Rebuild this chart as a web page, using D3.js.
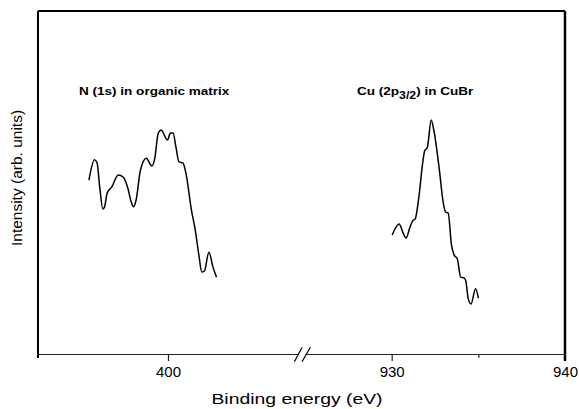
<!DOCTYPE html>
<html>
<head>
<meta charset="utf-8">
<script src="https://cdn.jsdelivr.net/npm/d3@7"></script>
<style>
  body { margin: 0; background: #fff; }
  svg { display: block; font-family: "Liberation Sans", Arial, sans-serif; }
</style>
</head>
<body>
<script>
// N (1s) spectrum, left part of the broken axis
const nEnergy = [395.44, 395.76, 395.91, 396.06, 396.24, 396.34, 396.49, 396.76, 397.13, 397.41,
  397.68, 397.88, 398.01, 398.16, 398.41, 398.75, 399.07, 399.22, 399.44, 399.60,
  399.97, 400.14, 400.29, 400.46, 400.63, 400.86, 401.03, 401.35, 401.57, 401.78,
  401.95, 402.10, 402.36, 402.59, 402.80];
const nIntensity = [50.7, 56.6, 55.7, 48.7, 42.3, 42.9, 46.9, 48.7, 52.2, 51.6,
  48.4, 44.3, 42.9, 44.9, 53.6, 57.1, 54.8, 56.6, 64.4, 65.3,
  62.4, 64.4, 64.4, 60.3, 56.0, 55.7, 52.8, 42.0, 36.2, 28.9,
  23.9, 24.2, 29.7, 25.4, 22.4];

// Cu (2p3/2) spectrum, right part
const cuEnergy = [930.03, 930.43, 930.66, 930.83, 931.06, 931.21, 931.36, 931.57, 931.79, 931.90,
  932.06, 932.28, 932.43, 932.74, 932.98, 933.11, 933.26, 933.45, 933.60, 933.79,
  933.98, 934.17, 934.28, 934.41, 934.58, 934.84, 935.00];
const cuIntensity = [34.7, 37.9, 35.3, 33.8, 37.0, 38.8, 39.4, 45.8, 55.7, 59.2,
  60.3, 68.2, 65.3, 54.2, 44.0, 41.4, 41.1, 31.8, 28.9, 27.7,
  22.4, 22.2, 21.3, 16.3, 14.6, 19.0, 16.3];

const leftTicks = [400];
const rightTicks = [930, 935, 940];
const rightLabels = {930: "930", 935: "", 940: "940"};

const W = 579, H = 409;
const pLeft = 38, pRight = 565, pTop = 11, pBottom = 354;
const breakL = 298, breakR = 305;

const svg = d3.select("body").append("svg")
  .attr("width", W).attr("height", H);

const xL = d3.scaleLinear().domain([392.5, 407.5]).range([pLeft, breakL]);
const xR = d3.scaleLinear().domain([925, 940]).range([breakR, pRight]);
const y = d3.scaleLinear().domain([0, 100]).range([pBottom, pTop]);

// frame (top, left, right)
svg.append("line").attr("x1", pLeft).attr("x2", pRight).attr("y1", pTop).attr("y2", pTop)
  .attr("stroke", "#000").attr("stroke-width", 2);
svg.append("line").attr("x1", pLeft).attr("x2", pLeft).attr("y1", pTop).attr("y2", pBottom + 4)
  .attr("stroke", "#000").attr("stroke-width", 2);
svg.append("line").attr("x1", pRight).attr("x2", pRight).attr("y1", pTop).attr("y2", pBottom + 7)
  .attr("stroke", "#000").attr("stroke-width", 2.5);

// bottom axes
function styleAxis(g) {
  g.select(".domain").attr("stroke", "#222").attr("stroke-width", 1.1);
  g.selectAll(".tick line").attr("stroke", "#222").attr("stroke-width", 1.2);
  g.selectAll(".tick text").attr("font-size", 15).attr("fill", "#000")
    .attr("font-family", "Liberation Sans, Arial, sans-serif");
}
svg.append("g").attr("transform", `translate(0,${pBottom})`)
  .call(d3.axisBottom(xL).tickValues(leftTicks).tickSize(7).tickSizeOuter(0).tickPadding(5))
  .call(styleAxis);
const gr = svg.append("g").attr("transform", `translate(0,${pBottom})`)
  .call(d3.axisBottom(xR).tickValues(rightTicks).tickSize(7).tickSizeOuter(0).tickPadding(5)
    .tickFormat(d => rightLabels[d]))
  .call(styleAxis);
gr.selectAll(".tick").filter(d => d === 935).select("line").attr("y2", 4);
gr.selectAll(".tick").filter(d => d === 940).select("line").remove();

// break marks
[[294.4, 361.7, 302, 347.5], [302, 361.7, 310.4, 347.3]].forEach(s => {
  svg.append("line").attr("x1", s[0]).attr("y1", s[1]).attr("x2", s[2]).attr("y2", s[3])
    .attr("stroke", "#000").attr("stroke-width", 1.2);
});

// spectra
const lineN = d3.line().x(d => xL(d[0])).y(d => y(d[1])).curve(d3.curveMonotoneX);
const lineCu = d3.line().x(d => xR(d[0])).y(d => y(d[1])).curve(d3.curveMonotoneX);
svg.append("path").datum(d3.zip(nEnergy, nIntensity)).attr("d", lineN)
  .attr("fill", "none").attr("stroke", "#000").attr("stroke-width", 1.5);
svg.append("path").datum(d3.zip(cuEnergy, cuIntensity)).attr("d", lineCu)
  .attr("fill", "none").attr("stroke", "#000").attr("stroke-width", 1.5);

// annotations (slightly stretched like the original)
const a1 = svg.append("g").attr("transform", "translate(79,95) scale(1.23,1)");
a1.append("text").attr("font-size", 11).attr("font-weight", "bold").text("N (1s) in organic matrix");

const a2 = svg.append("g").attr("transform", "translate(357,95) scale(1.23,1)");
const t2 = a2.append("text").attr("font-size", 11).attr("font-weight", "bold");
t2.append("tspan").text("Cu (2p");
t2.append("tspan").attr("dy", 4).attr("font-size", 10).text("3/2");
t2.append("tspan").attr("dy", -4).text(") in CuBr");

// axis titles
svg.append("g").attr("transform", "translate(297,404) scale(1.25,1)")
  .append("text").attr("text-anchor", "middle").attr("font-size", 15.5).text("Binding energy (eV)");
svg.append("g").attr("transform", "translate(22,178) rotate(-90)")
  .append("text").attr("text-anchor", "middle").attr("font-size", 15.5).text("Intensity (arb. units)");
</script>
</body>
</html>
